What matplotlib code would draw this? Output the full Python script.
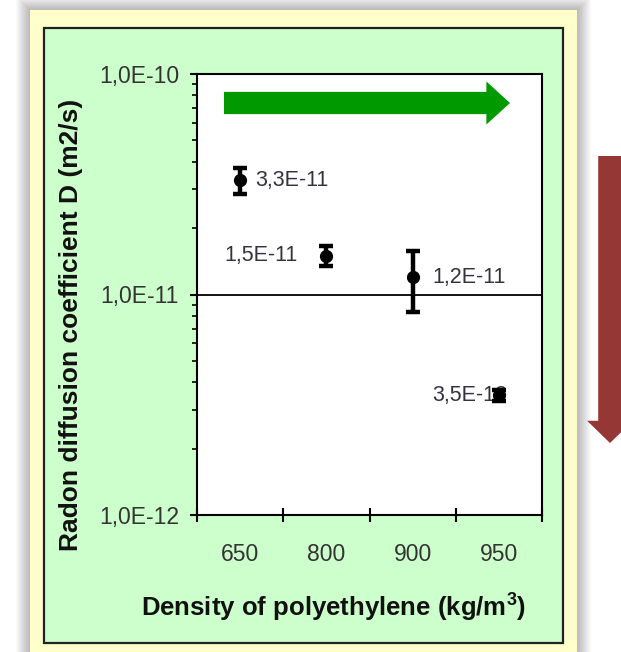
import matplotlib
matplotlib.use("Agg")
import matplotlib.pyplot as plt
import numpy as np
from matplotlib.patches import Rectangle, FancyArrowPatch
from matplotlib.ticker import (FuncFormatter, LogLocator, NullFormatter,
                               FixedLocator, FixedFormatter)

plt.rcParams['font.family'] = ['Liberation Sans', 'DejaVu Sans']
plt.rcParams['mathtext.fontset'] = 'custom'
plt.rcParams['mathtext.rm'] = 'Liberation Sans'
plt.rcParams['mathtext.bf'] = 'Liberation Sans:bold'

# radon diffusion coefficient per polyethylene density
densities = ['650', '800', '900', '950']
diffusion = [3.3e-11, 1.5e-11, 1.2e-11, 3.5e-12]
diffusion_err = [0.45e-11, 0.16e-11, 0.37e-11, 0.2e-12]
y_decades = [1e-12, 1e-11, 1e-10]

# value label placement (points offset, alignment)
label_offsets = [(11, 0), (-21, 0), (14, 0), (6, 0)]
label_align = ['left', 'right', 'left', 'right']

W, H = 621, 652
fig = plt.figure(figsize=(W / 100, H / 100), dpi=100)
fig.patch.set_facecolor('white')


def box(x0, y0, x1, y1):
    # pixel box (top-left origin) -> figure-fraction xy, width, height
    return (x0 / W, 1 - y1 / H), (x1 - x0) / W, (y1 - y0) / H


# soft shadow round the card
for i in range(14, 0, -1):
    xy, w, h = box(30 - i, 10 - i, 577 + i, H)
    fig.add_artist(Rectangle(xy, w, h, transform=fig.transFigure,
                             facecolor='black', edgecolor='none',
                             alpha=0.018, zorder=-10))

xy, w, h = box(30, 10, 577, H)
fig.add_artist(Rectangle(xy, w, h, transform=fig.transFigure,
                         facecolor='#FFFFCC', edgecolor='none', zorder=-9))
xy, w, h = box(44, 28, 563, 643)
fig.add_artist(Rectangle(xy, w, h, transform=fig.transFigure,
                         facecolor='#CCFFCC', edgecolor='#222222',
                         linewidth=1.6, zorder=-8))

ax = fig.add_axes([197 / W, 1 - 515 / H, 345 / W, 441 / H])
ax.set_facecolor('white')

x = np.arange(len(densities))
ax.errorbar(x, diffusion, yerr=diffusion_err, fmt='o', color='black',
            ms=8.5, elinewidth=3.2, capsize=5, capthick=3.2, zorder=4)

for xi, v, off, ha in zip(x, diffusion, label_offsets, label_align):
    ax.annotate(f"{v:.1E}".replace('.', ','), (xi, v), xytext=off,
                textcoords='offset points', ha=ha, va='center',
                fontsize=15.5, color='#333340', zorder=3)

ax.set_yscale('log')
ax.set_ylim(y_decades[0], y_decades[-1])
ax.set_xlim(-0.5, len(densities) - 0.5)

# category boundaries carry the tick marks, centres carry the labels
ax.xaxis.set_major_locator(FixedLocator(np.arange(-0.5, len(densities))))
ax.xaxis.set_major_formatter(NullFormatter())
ax.xaxis.set_minor_locator(FixedLocator(x))
ax.xaxis.set_minor_formatter(FixedFormatter(densities))
ax.tick_params(axis='x', which='major', direction='inout', length=10,
               width=1.5, color='black')
ax.tick_params(axis='x', which='minor', length=0, pad=20,
               labelsize=16.5, labelcolor='#333333')

ax.yaxis.set_major_locator(FixedLocator(y_decades))
ax.yaxis.set_major_formatter(FuncFormatter(lambda v, p: f"{v:.1E}".replace('.', ',')))
ax.yaxis.set_minor_locator(LogLocator(base=10, subs=range(2, 10)))
ax.yaxis.set_minor_formatter(NullFormatter())
ax.tick_params(axis='y', which='major', direction='out', length=5,
               width=1.5, pad=8, labelsize=16.5, labelcolor='#333333')
ax.tick_params(axis='y', which='minor', direction='out', length=3.5,
               width=1.2)

ax.grid(True, which='major', axis='y', color='black', linewidth=1.3)
ax.set_axisbelow(True)
for s in ax.spines.values():
    s.set_linewidth(1.5)
    s.set_color('black')

ax.set_ylabel('Radon diffusion coefficient D (m2/s)', fontsize=19,
              fontweight='bold', color='#111111')
ax.yaxis.label.set_va('center')
ax.yaxis.set_label_coords((71 - 197) / 345, (515 - 325) / 441)

ax.set_xlabel(r'Density of polyethylene (kg/m$^{\mathbf{3}}$)', fontsize=18.5,
              fontweight='bold', color='#111111')
ax.xaxis.label.set_va('center')
ax.xaxis.set_label_coords((334 - 197) / 345, (515 - 607) / 441)

# direction arrows
green = FancyArrowPatch((224 / W, 1 - 103 / H), (510 / W, 1 - 103 / H),
                        transform=fig.transFigure,
                        arrowstyle='simple,head_width=31,head_length=17,tail_width=16',
                        mutation_scale=1, color='#009900', linewidth=0,
                        shrinkA=0, shrinkB=0, zorder=5)
fig.add_artist(green)
red = FancyArrowPatch((610 / W, 1 - 156 / H), (610 / W, 1 - 443 / H),
                      transform=fig.transFigure,
                      arrowstyle='simple,head_width=33,head_length=16,tail_width=17',
                      mutation_scale=1, color='#953735', linewidth=0,
                      shrinkA=0, shrinkB=0, zorder=5)
fig.add_artist(red)

fig.savefig('out.png', dpi=100)
